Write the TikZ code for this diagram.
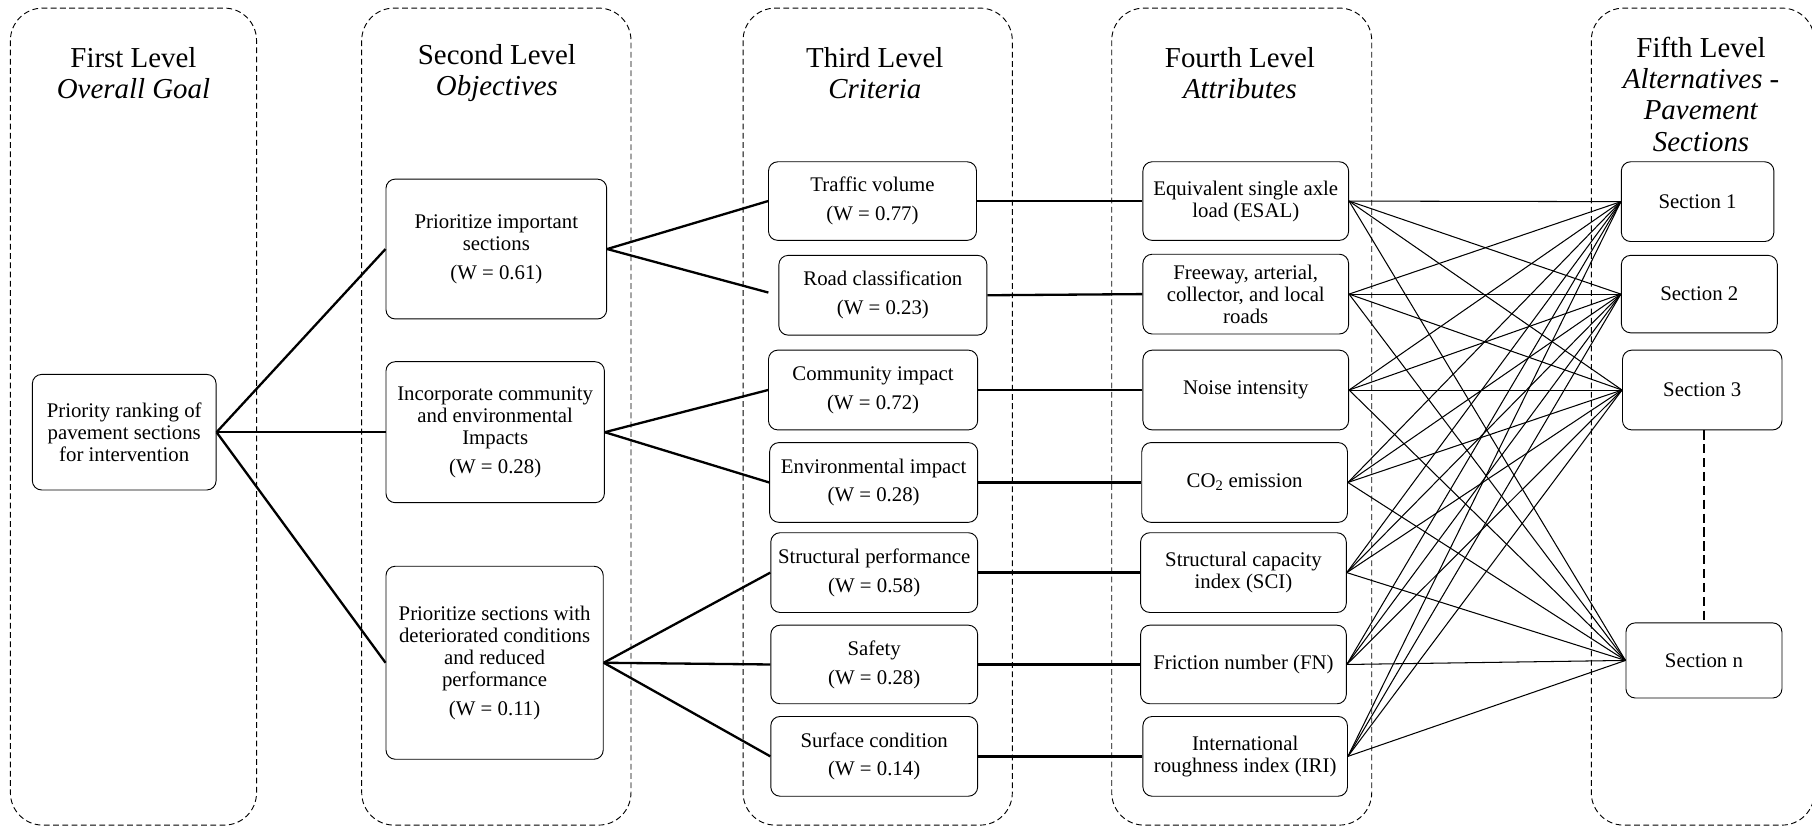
\documentclass[tikz,border=0pt]{standalone}
\usepackage{fontspec}
\setmainfont{Liberation Serif}
\begin{document}
\begin{tikzpicture}[x=1pt,y=-1pt,
 container/.style={draw, line width=0.8pt, dash pattern=on 5pt off 3pt, rounded corners=28pt},
 box/.style={draw, line width=0.8pt, rounded corners=8pt, align=center, inner sep=0pt, font=\fontsize{18}{19}\selectfont},
 ttl/.style={align=center, inner sep=0pt, font=\fontsize{25}{27}\selectfont},
 thk/.style={line width=2pt},
 thn/.style={line width=0.9pt},
 sdash/.style={line width=2pt, dash pattern=on 8pt off 4pt}
]
\useasboundingbox (0,0) rectangle (1568,717);
% containers
\draw[container] (9,7) rectangle (222,714);
\draw[container] (313,7) rectangle (546,714);
\draw[container] (643,7) rectangle (876,714);
\draw[container] (962,7) rectangle (1187,714);
\draw[container] (1377,7) rectangle (1570,714);
% titles
\node[ttl] (t1) at (115.5,63) {First Level\\\textit{Overall Goal}};
\node[ttl] (t2) at (430,63) {Second Level\\\textit{Objectives}};
\node[ttl] (t3) at (757,63) {Third Level\\\textit{Criteria}};
\node[ttl] (t4) at (1073,63) {Fourth Level\\\textit{Attributes}};
\node[ttl] (t5) at (1472,81.5) {Fifth Level\\\textit{Alternatives -}\\\textit{Pavement}\\\textit{Sections}};
% level 1
\node[box, minimum width=159pt, minimum height=100pt] (g) at (107.5,374) {Priority ranking of\\pavement sections\\for intervention};
% level 2
\node[box, minimum width=191pt, minimum height=121pt] (oA) at (429.5,215.5) {Prioritize important\\sections\\[6pt](W = 0.61)};
\node[box, minimum width=189pt, minimum height=122pt] (oB) at (428.5,374) {Incorporate community\\and environmental\\Impacts\\[6pt](W = 0.28)};
\node[box, minimum width=188pt, minimum height=167pt] (oC) at (428,573.5) {Prioritize sections with\\deteriorated conditions\\and reduced\\performance\\[6pt](W = 0.11)};
% level 3
\node[box, minimum width=180pt, minimum height=68pt] (c1) at (755,174) {Traffic volume\\[6pt](W = 0.77)};
\node[box, minimum width=180pt, minimum height=69pt] (c2) at (764,255.5) {Road classification\\[6pt](W = 0.23)};
\node[box, minimum width=181pt, minimum height=69pt] (c3) at (755.5,337.5) {Community impact\\[6pt](W = 0.72)};
\node[box, minimum width=180pt, minimum height=69pt] (c4) at (756,417.5) {Environmental impact\\[6pt](W = 0.28)};
\node[box, minimum width=179pt, minimum height=69pt] (c5) at (756.5,495.5) {Structural performance\\[6pt](W = 0.58)};
\node[box, minimum width=179pt, minimum height=68pt] (c6) at (756.5,575) {Safety\\[6pt](W = 0.28)};
\node[box, minimum width=179pt, minimum height=69pt] (c7) at (756.5,654.5) {Surface condition\\[6pt](W = 0.14)};
% level 4
\node[box, minimum width=178pt, minimum height=68pt] (a1) at (1078,174) {Equivalent single axle\\load (ESAL)};
\node[box, minimum width=178pt, minimum height=69pt] (a2) at (1078,254.5) {Freeway, arterial,\\collector, and local\\roads};
\node[box, minimum width=178pt, minimum height=69pt] (a3) at (1078,337.5) {Noise intensity};
\node[box, minimum width=178pt, minimum height=69pt] (a4) at (1077,417.5) {CO\textsubscript{2} emission};
\node[box, minimum width=178pt, minimum height=69pt] (a5) at (1076,495.5) {Structural capacity\\index (SCI)};
\node[box, minimum width=178pt, minimum height=68pt] (a6) at (1076,575) {Friction number (FN)};
\node[box, minimum width=177pt, minimum height=69pt] (a7) at (1077.5,654.5) {International\\roughness index (IRI)};
% level 5
\node[box, minimum width=132pt, minimum height=69pt] (s1) at (1469,174.5) {Section 1};
\node[box, minimum width=135pt, minimum height=67pt] (s2) at (1470.5,254.5) {Section 2};
\node[box, minimum width=138pt, minimum height=69pt] (s3) at (1473,337.5) {Section 3};
\node[box, minimum width=135pt, minimum height=65pt] (sn) at (1474.5,571.5) {Section n};
\draw[sdash] (sn.north |- s3.south) -- (sn.north);
% connectors level 1 -> 2
\draw[thk] (g.east) -- (oA.west);
\draw[thk] (g.east) -- (oB.west);
\draw[thk] (g.east) -- (oC.west);
% level 2 -> 3
\draw[thk] (oA.east) -- (c1.west);
\draw[thk, shorten >=9pt] (oA.east) -- (c2.west);
\draw[thk] (oB.east) -- (c3.west);
\draw[thk] (oB.east) -- (c4.west);
\draw[thk] (oC.east) -- (c5.west);
\draw[thk] (oC.east) -- (c6.west);
\draw[thk] (oC.east) -- (c7.west);
% level 3 -> 4
\foreach \i in {1,...,7} {\draw[thk] (c\i.east) -- (a\i.west);}
% level 4 -> 5
\foreach \i in {1,...,7} {
  \foreach \s in {s1,s2,s3,sn} {\draw[thn] (a\i.east) -- (\s.west);}
}
\end{tikzpicture}
\end{document}
